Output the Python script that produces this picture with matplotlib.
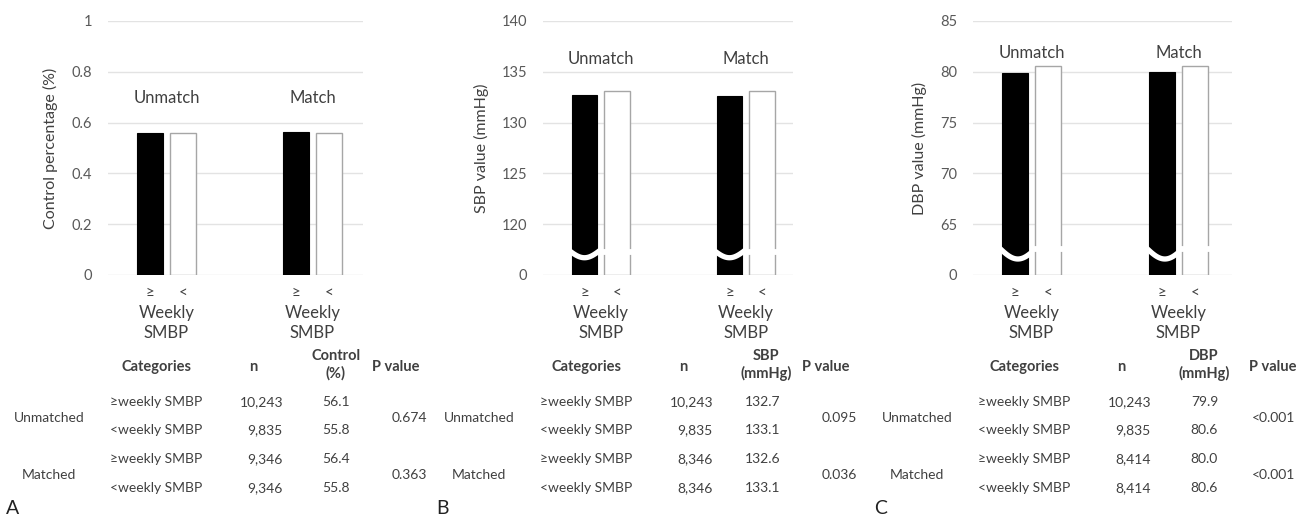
import numpy as np
import matplotlib
matplotlib.use("Agg")
import matplotlib.pyplot as plt

plt.rcParams['font.family'] = ['Lato', 'DejaVu Sans']

W, H = 1296, 516
DPI = 100

# ---------------- data ----------------
groups = ["Unmatch", "Match"]
bar_marks = ["\u2265", "<"]

ctrl_ge = [0.561, 0.564]
ctrl_lt = [0.558, 0.558]

sbp_ge = [132.7, 132.6]
sbp_lt = [133.1, 133.1]

dbp_ge = [79.9, 80.0]
dbp_lt = [80.6, 80.6]

ticks_A = [0, 0.2, 0.4, 0.6, 0.8, 1]
ticklabels_A = ["0", "0.2", "0.4", "0.6", "0.8", "1"]
ticks_B = [0, 120, 125, 130, 135, 140]
ticks_C = [0, 65, 70, 75, 80, 85]

ylabel_A = "Control percentage (%)"
ylabel_B = "SBP value (mmHg)"
ylabel_C = "DBP value (mmHg)"

tab_groups = ["Unmatched", "Matched"]
tab_cats = ["\u2265weekly SMBP", "<weekly SMBP", "\u2265weekly SMBP", "<weekly SMBP"]
n_A = ["10,243", "9,835", "9,346", "9,346"]
v_A = ["56.1", "55.8", "56.4", "55.8"]
p_A = ["0.674", "0.363"]
n_B = ["10,243", "9,835", "8,346", "8,346"]
v_B = ["132.7", "133.1", "132.6", "133.1"]
p_B = ["0.095", "0.036"]
n_C = ["10,243", "9,835", "8,414", "8,414"]
v_C = ["79.9", "80.6", "80.0", "80.6"]
p_C = ["<0.001", "<0.001"]
val_headers = ["Control\n(%)", "SBP\n(mmHg)", "DBP\n(mmHg)"]
panel_letters = ["A", "B", "C"]

# ---------------- style ----------------
TXT = "#404040"
TICK = "#595959"
GRID = "#e3e3e3"
EDGE = "#a6a6a6"
FS = 10.5

fig = plt.figure(figsize=(W / DPI, H / DPI), dpi=DPI)


def fx(px):
    return px / W


def fy(py):
    return 1 - py / H


def make_axes(left, right, top=21, bottom=275):
    return fig.add_axes([fx(left), fy(bottom), (right - left) / W, (bottom - top) / H])


def broken_scale(low, step):
    def fwd(v):
        v = np.asarray(v, dtype=float)
        return np.where(v < low, v / low, 1 + (v - low) / step)

    def inv(p):
        p = np.asarray(p, dtype=float)
        return np.where(p < 1, p * low, low + (p - 1) * step)
    return fwd, inv


x = np.arange(len(groups))
OFF = 0.112
BW = 0.178


def draw_panel(ax, ge, lt, ticks, ticklabels, ylim, ylabel, xlim, label_y, ylab_x,
               brk=None):
    ax.set_xlim(*xlim)
    ax.set_ylim(*ylim)
    ax.bar(x - OFF, ge, BW, color="black", edgecolor="black", linewidth=0.8, zorder=3)
    ax.bar(x + OFF, lt, BW, color="white", edgecolor=EDGE, linewidth=1.0, zorder=3)
    ax.set_yticks(ticks)
    ax.set_yticklabels(ticklabels)
    ax.yaxis.grid(True, color=GRID, linewidth=1.0, zorder=0)
    ax.set_axisbelow(True)
    for s in ax.spines.values():
        s.set_visible(False)
    ax.tick_params(axis='y', length=0, pad=11.5, labelsize=FS, labelcolor=TICK)
    ax.set_xticks(np.concatenate([x - OFF, x + OFF]))
    ax.set_xticklabels([bar_marks[0]] * len(x) + [bar_marks[1]] * len(x))
    ax.tick_params(axis='x', length=0, pad=8, labelsize=FS + 0.5, labelcolor=TXT)
    ax.set_ylabel(ylabel, fontsize=11.5, color=TXT)
    ax.yaxis.set_label_coords(ylab_x, 0.5)
    tr = ax.get_xaxis_transform()
    for i, g in enumerate(groups):
        ax.text(x[i], label_y, g, transform=tr, ha="center", va="center",
                fontsize=12, color=TXT)
        ax.text(x[i], -0.15, "Weekly", transform=tr, ha="center", va="center",
                fontsize=12, color=TXT)
        ax.text(x[i], -0.228, "SMBP", transform=tr, ha="center", va="center",
                fontsize=12, color=TXT)
    if brk is not None:
        base, amp, shape = brk
        for i in range(len(x)):
            t = np.linspace(0, 1, 60)
            xs = (x[i] - OFF - BW / 2 - 0.02) + t * (BW + 0.04)
            if shape == "u":
                ys = base - amp * np.sin(np.pi * t)
            else:
                ys = base - amp * np.sin(np.pi * t * 0.85)
            ax.plot(xs, ys, color="white", linewidth=3.8, transform=tr, zorder=5,
                    solid_capstyle="butt")
            xs2 = np.array([x[i] + OFF - BW / 2 - 0.02, x[i] + OFF + BW / 2 + 0.02])
            ax.plot(xs2, [base - 0.006, base - 0.006], color="white", linewidth=4.2,
                    transform=tr, zorder=5, solid_capstyle="butt")


axA = make_axes(108, 363)
draw_panel(axA, ctrl_ge, ctrl_lt, ticks_A, ticklabels_A, (0, 1), ylabel_A,
           (-0.40, 1.346), 0.697, -0.196)

axB = make_axes(543, 793)
fB, iB = broken_scale(120, 5)
axB.set_yscale("function", functions=(fB, iB))
draw_panel(axB, sbp_ge, sbp_lt, ticks_B, [str(t) for t in ticks_B], (0, 140), ylabel_B,
           (-0.398, 1.326), 0.85, -0.216, brk=(0.098, 0.03, "u"))

axC = make_axes(973, 1232)
fC, iC = broken_scale(65, 5)
axC.set_yscale("function", functions=(fC, iC))
draw_panel(axC, dbp_ge, dbp_lt, ticks_C, [str(t) for t in ticks_C], (0, 85), ylabel_C,
           (-0.398, 1.364), 0.874, -0.178, brk=(0.108, 0.045, "s"))

# ---------------- tables ----------------
HDR_Y = 367
ROW_Y = [402, 430, 459, 488]
GRP_Y = [418, 475]
cols = dict(grp=49, cat=110, cat_h=157, n_h=253, n_r=283, v_h=336, v_r=350, p_h=396, p_r=427)
offsets = [0, 430, 868]
tables = [(n_A, v_A, p_A), (n_B, v_B, p_B), (n_C, v_C, p_C)]
TFS = 10
HFS = 10.5

for k, off in enumerate(offsets):
    n_vals, v_vals, p_vals = tables[k]
    fig.text(fx(cols["cat_h"] + off), fy(HDR_Y), "Categories", ha="center", va="center",
             fontsize=HFS, fontweight="bold", color=TXT)
    fig.text(fx(cols["n_h"] + off), fy(HDR_Y), "n", ha="center", va="center",
             fontsize=HFS, fontweight="bold", color=TXT)
    fig.text(fx(cols["v_h"] + off), fy(HDR_Y - 2), val_headers[k], ha="center", va="center",
             fontsize=HFS, fontweight="bold", color=TXT, linespacing=1.25)
    ph = cols["p_h"] + off if k < 2 else 1273
    fig.text(fx(ph), fy(HDR_Y), "P value", ha="center", va="center",
             fontsize=HFS, fontweight="bold", color=TXT)
    for r in range(4):
        fig.text(fx(cols["cat"] + off), fy(ROW_Y[r]), tab_cats[r], ha="left", va="center",
                 fontsize=TFS, color=TXT)
        fig.text(fx(cols["n_r"] + off), fy(ROW_Y[r]), n_vals[r], ha="right", va="center",
                 fontsize=TFS, color=TXT)
        fig.text(fx(cols["v_r"] + off), fy(ROW_Y[r]), v_vals[r], ha="right", va="center",
                 fontsize=TFS, color=TXT)
    for g in range(2):
        fig.text(fx(cols["grp"] + off), fy(GRP_Y[g]), tab_groups[g], ha="center", va="center",
                 fontsize=TFS, color=TXT)
        fig.text(fx(cols["p_r"] + off), fy(GRP_Y[g]), p_vals[g], ha="right", va="center",
                 fontsize=TFS, color=TXT)
    fig.text(fx(6 + off), fy(508), panel_letters[k], ha="left", va="center",
             fontsize=14, color="#222222")

fig.savefig("out.png", dpi=DPI)
